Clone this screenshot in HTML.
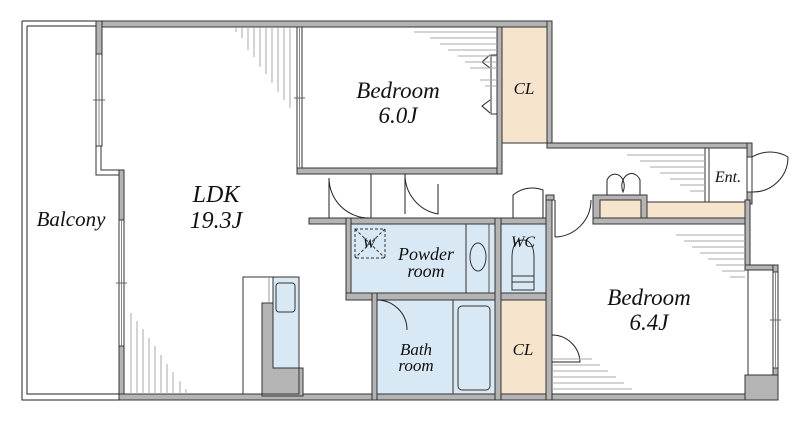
<!DOCTYPE html>
<html><head><meta charset="utf-8"><style>
html,body{margin:0;padding:0;background:#fff;}
svg{display:block;}
text{font-family:"Liberation Serif",serif;font-style:italic;fill:#111;}
</style></head><body>
<svg width="800" height="421" viewBox="0 0 800 421" xmlns="http://www.w3.org/2000/svg">
<!-- Balcony -->
<path d="M22 21 H97 M22 21 V400 H120" fill="none" stroke="#222" stroke-width="1"/>
<path d="M27 26 H96 M27 26 V394 H120" fill="none" stroke="#222" stroke-width="1"/>

<g fill="#b4b4b4" stroke="#333" stroke-width="1">
<rect x="96" y="21" width="456" height="6"/>
<rect x="96" y="21" width="6" height="33"/>
<rect x="119" y="170" width="5" height="50"/>
<rect x="119" y="346" width="5" height="54"/>
<rect x="119" y="394" width="258" height="6"/>
<rect x="372" y="394" width="378" height="6"/>
<rect x="297" y="168" width="205" height="6"/>
<rect x="497" y="27" width="5" height="147"/>
<rect x="547" y="21" width="5" height="127"/>
<rect x="547" y="143" width="205" height="5"/>
<rect x="747" y="143" width="5" height="14"/>
<rect x="747" y="192" width="5" height="12"/>
<rect x="309" y="218" width="243" height="6"/>
<rect x="346" y="218" width="5" height="82"/>
<rect x="346" y="293" width="206" height="7"/>
<rect x="372" y="293" width="5" height="107"/>
<rect x="495" y="218" width="6" height="182"/>
<rect x="546" y="195" width="6" height="205"/>
<rect x="546" y="195" width="8" height="5"/>
<rect x="593" y="195" width="54" height="29"/>
<rect x="593" y="218" width="157" height="6"/>
<rect x="745" y="200" width="5" height="70"/>
<rect x="745" y="265" width="33" height="5"/>
<rect x="773" y="265" width="5" height="7"/>
<rect x="773" y="368" width="5" height="32"/>
<rect x="745" y="375" width="33" height="25"/>
<path d="M262 303 H273 V368 H303 V396 H262 Z"/>
</g>
<line x1="748" y1="270" x2="748" y2="375" stroke="#333"/>
<path d="M96 146 V175 H119" fill="none" stroke="#333" stroke-width="1"/>
<path d="M101 146 V170 H119" fill="none" stroke="#333" stroke-width="1"/>
<g fill="#fff" stroke="#333" stroke-width="1">
<rect x="96" y="54" width="6" height="92"/>
<rect x="119" y="220" width="5" height="126"/>
<rect x="297" y="27" width="5" height="141"/>
<rect x="773" y="272" width="5" height="96"/>
</g>
<line x1="99" y1="54" x2="99" y2="146" stroke="#888"/>
<line x1="121.5" y1="220" x2="121.5" y2="346" stroke="#888"/>
<line x1="299.5" y1="27" x2="299.5" y2="168" stroke="#888"/>
<line x1="775.5" y1="272" x2="775.5" y2="368" stroke="#888"/>
<g stroke="#666"><line x1="93" y1="100" x2="105" y2="100"/><line x1="116" y1="283" x2="127" y2="283"/><line x1="294" y1="98" x2="305" y2="98"/><line x1="770" y1="320" x2="781" y2="320"/></g>
<rect x="502" y="27" width="45" height="116" fill="#f6e5cc" stroke="#333"/>
<rect x="351" y="224" width="144" height="69" fill="#d9e8f5" stroke="#333"/>
<line x1="466" y1="224" x2="466" y2="293" stroke="#333"/>
<line x1="489" y1="224" x2="489" y2="293" stroke="#555"/>
<ellipse cx="478" cy="257" rx="8" ry="14" fill="none" stroke="#333"/>
<rect x="355" y="229" width="30" height="29" fill="none" stroke="#333" stroke-dasharray="3,2"/>
<path d="M355 229 L385 258 M385 229 L355 258" stroke="#333" stroke-dasharray="3,2"/>
<rect x="501" y="224" width="45" height="69" fill="#d9e8f5" stroke="#333"/>
<path d="M512 290 V258 Q512 240 523 240 Q534 240 534 258 V290 Z" fill="none" stroke="#333"/>
<rect x="512" y="276" width="22" height="6" fill="none" stroke="#333"/>
<rect x="377" y="300" width="118" height="94" fill="#d9e8f5" stroke="#333"/>
<line x1="453" y1="300" x2="453" y2="394" stroke="#333"/>
<rect x="458" y="306" width="32" height="84" rx="4" fill="none" stroke="#333"/>
<rect x="501" y="300" width="45" height="94" fill="#f6e5cc" stroke="#333"/>
<rect x="243" y="277" width="56" height="117" fill="none" stroke="#333"/>
<rect x="273" y="277" width="26" height="91" fill="#d9e8f5" stroke="#333"/>
<rect x="276" y="283" width="19" height="29" rx="3" fill="none" stroke="#333"/>
<line x1="269" y1="277" x2="269" y2="303" stroke="#999"/>
<rect x="600" y="200" width="41" height="18" fill="#f6e5cc" stroke="#333"/>
<rect x="647" y="202" width="98" height="16" fill="#f6e5cc" stroke="#333"/>
<line x1="705" y1="148" x2="705" y2="202" stroke="#333"/>
<line x1="709" y1="148" x2="709" y2="202" stroke="#333"/>
<g fill="none" stroke="#222" stroke-width="1">
<path d="M329 178 V218 M329 178 A40 40 0 0 0 369 218"/>
<path d="M371 174 V218"/>
<path d="M405 174 V214 M405 174 A40 40 0 0 0 438 214 V184"/>
<path d="M513 218 V195 A30 30 0 0 1 543 190 V218"/>
<path d="M555 200 V237 M555 237 A37 37 0 0 0 591 200"/>
<path d="M752 157 A35 35 0 0 1 788 157 A35 35 0 0 1 752 192"/>
<path d="M607 195 V180 A7 9 0 0 1 623 192 A7 9 0 0 1 640 180 V195"/>
<path d="M377 300 A30 30 0 0 1 407 330"/>
<path d="M552 335 A28 28 0 0 1 580 362 H552"/>
<path d="M490 55 L482 62 L490 68 M490 100 L482 106 L490 113"/>
</g>
<rect x="491" y="55" width="6" height="59" fill="#fff" stroke="#333"/>
<rect x="747" y="157" width="5" height="35" fill="#fff" stroke="#333"/>
<g stroke="#aaa" stroke-width="1">
<line x1="236" y1="27" x2="236" y2="32"/><line x1="242" y1="27" x2="242" y2="38"/><line x1="248" y1="27" x2="248" y2="50"/><line x1="254" y1="27" x2="254" y2="57"/><line x1="260" y1="27" x2="260" y2="67"/><line x1="266" y1="27" x2="266" y2="74"/><line x1="272" y1="27" x2="272" y2="83"/><line x1="278" y1="27" x2="278" y2="92"/><line x1="284" y1="27" x2="284" y2="100"/><line x1="290" y1="27" x2="290" y2="108"/>
<line x1="131" y1="313" x2="131" y2="394"/><line x1="137" y1="321" x2="137" y2="394"/><line x1="143" y1="329" x2="143" y2="394"/><line x1="149" y1="338" x2="149" y2="394"/><line x1="155" y1="346" x2="155" y2="394"/><line x1="161" y1="355" x2="161" y2="394"/><line x1="167" y1="364" x2="167" y2="394"/><line x1="173" y1="372" x2="173" y2="394"/><line x1="180" y1="381" x2="180" y2="394"/><line x1="186" y1="389" x2="186" y2="394"/>
<line x1="414" y1="32" x2="497" y2="32"/><line x1="430" y1="38" x2="497" y2="38"/><line x1="440" y1="44" x2="497" y2="44"/><line x1="448" y1="50" x2="497" y2="50"/><line x1="458" y1="56" x2="497" y2="56"/><line x1="465" y1="62" x2="497" y2="62"/><line x1="470" y1="68" x2="497" y2="68"/><line x1="480" y1="80" x2="497" y2="80"/><line x1="485" y1="86" x2="497" y2="86"/>
<line x1="627" y1="155" x2="705" y2="155"/><line x1="640" y1="161" x2="705" y2="161"/><line x1="650" y1="167" x2="705" y2="167"/><line x1="660" y1="173" x2="705" y2="173"/><line x1="670" y1="179" x2="705" y2="179"/><line x1="680" y1="185" x2="705" y2="185"/><line x1="690" y1="191" x2="705" y2="191"/>
<line x1="676" y1="235" x2="745" y2="235"/><line x1="684" y1="241" x2="745" y2="241"/><line x1="692" y1="247" x2="745" y2="247"/><line x1="700" y1="253" x2="745" y2="253"/><line x1="708" y1="259" x2="745" y2="259"/><line x1="716" y1="265" x2="745" y2="265"/><line x1="722" y1="271" x2="745" y2="271"/><line x1="730" y1="277" x2="745" y2="277"/>
<line x1="552" y1="359" x2="592" y2="359"/><line x1="552" y1="365" x2="600" y2="365"/><line x1="552" y1="371" x2="608" y2="371"/><line x1="552" y1="377" x2="616" y2="377"/><line x1="552" y1="383" x2="624" y2="383"/><line x1="552" y1="389" x2="632" y2="389"/>
</g>
<text x="398" y="98" font-size="23" text-anchor="middle">Bedroom</text>
<text x="398" y="123" font-size="23" text-anchor="middle">6.0J</text>
<text x="524" y="94" font-size="17" text-anchor="middle">CL</text>
<text x="216" y="202" font-size="24" text-anchor="middle">LDK</text>
<text x="216" y="228" font-size="24" text-anchor="middle">19.3J</text>
<text x="71" y="226" font-size="21" text-anchor="middle">Balcony</text>
<text x="728" y="182" font-size="16" text-anchor="middle">Ent.</text>
<text x="369" y="248" font-size="15" text-anchor="middle">W</text>
<text x="426" y="260" font-size="18" text-anchor="middle">Powder</text>
<text x="426" y="277" font-size="18" text-anchor="middle">room</text>
<text x="523" y="247" font-size="16" text-anchor="middle">WC</text>
<text x="416" y="355" font-size="17" text-anchor="middle">Bath</text>
<text x="416" y="371" font-size="17" text-anchor="middle">room</text>
<text x="523" y="355" font-size="17" text-anchor="middle">CL</text>
<text x="649" y="305" font-size="23" text-anchor="middle">Bedroom</text>
<text x="649" y="330" font-size="23" text-anchor="middle">6.4J</text>
</svg>
</body></html>
